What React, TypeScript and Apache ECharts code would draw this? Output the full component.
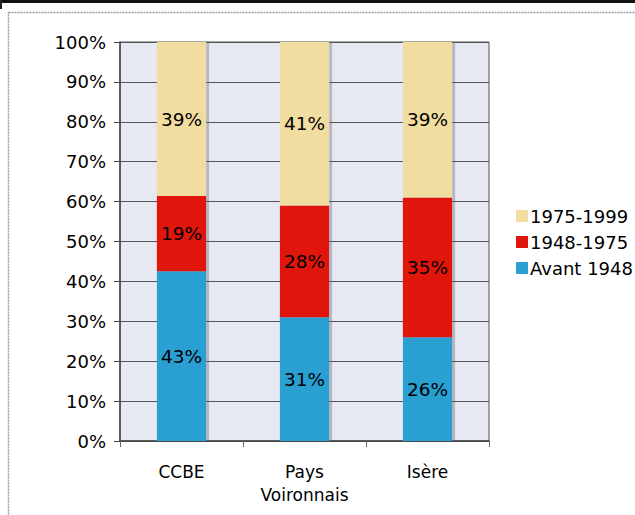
import React, { useEffect, useRef } from "react";
import * as echarts from "echarts";

const categories = ["CCBE", "Pays\nVoironnais", "Isère"];
const seriesNames = ["Avant 1948", "1948-1975", "1975-1999"];
const avant1948 = [43, 31, 26];
const p1948_1975 = [19, 28, 35];
const p1975_1999 = [39, 41, 39];
const yTickLabels = ["0%", "10%", "20%", "30%", "40%", "50%", "60%", "70%", "80%", "90%", "100%"];

const colors = ["#2b9fd2", "#e0140e", "#f1dd9f"];
const FONT = "DejaVu Sans";

export default function App() {
  const ref = useRef<HTMLDivElement>(null);
  useEffect(() => {
    if (!ref.current) return;
    const chart = echarts.init(ref.current, null, { renderer: "svg" });
    const raw = [avant1948, p1948_1975, p1975_1999];
    const totals = categories.map((_, i) => raw.reduce((s, arr) => s + arr[i], 0));
    const series = raw.map((arr, si) => ({
      name: seriesNames[si],
      type: "bar",
      stack: "total",
      barWidth: "40%",
      itemStyle: {
        color: colors[si],
        shadowColor: "rgba(90,90,110,0.35)",
        shadowOffsetX: 3,
        shadowBlur: 0,
      },
      label: {
        show: true,
        position: "inside",
        color: "#000",
        fontFamily: FONT,
        fontSize: 18.5,
        formatter: (p: any) => `${arr[p.dataIndex]}%`,
      },
      data: arr.map((v, i) => (v / totals[i]) * 100),
    }));
    chart.setOption({
      animation: false,
      backgroundColor: "#ffffff",
      textStyle: { fontFamily: FONT },
      grid: { left: 120, top: 42, right: 146, bottom: 74, containLabel: false, show: true, backgroundColor: "#e6e9f1", borderColor: "#555", borderWidth: 1 },
      legend: {
        orient: "vertical",
        left: 511,
        top: 202,
        itemWidth: 12,
        itemHeight: 12,
        itemGap: 8,
        icon: "rect",
        data: ["1975-1999", "1948-1975", "Avant 1948"],
        textStyle: { fontFamily: FONT, fontSize: 18, color: "#000", padding: [0, 0, 0, -3] },
      },
      xAxis: {
        type: "category",
        data: categories,
        axisLine: { lineStyle: { color: "#444", width: 1.5 } },
        axisTick: { show: true, length: 6, lineStyle: { color: "#666" } },
        axisLabel: { fontFamily: FONT, fontSize: 17, color: "#000", margin: 19, lineHeight: 23 },
      },
      yAxis: {
        type: "value",
        min: 0,
        max: 100,
        interval: 10,
        axisLine: { show: true, lineStyle: { color: "#444", width: 1.5 } },
        axisTick: { show: true, length: 6, lineStyle: { color: "#444" } },
        splitLine: { lineStyle: { color: "#555", width: 1 } },
        axisLabel: {
          fontFamily: FONT,
          fontSize: 18,
          color: "#000",
          margin: 14,
          formatter: (v: number) => yTickLabels[Math.round(v / 10)],
        },
      },
      graphic: [
        { type: "rect", shape: { x: 0, y: 0, width: 635, height: 3 }, style: { fill: "#111" } },
        { type: "line", shape: { x1: 1, y1: 0, x2: 1, y2: 9 }, style: { stroke: "#222", lineWidth: 2 } },
        { type: "rect", shape: { x: 8.5, y: 12.5, width: 640, height: 520 }, style: { fill: "none", stroke: "#9a9aa8", lineWidth: 1.5, lineDash: [2, 1] } },
      ],
      series,
    });
    return () => chart.dispose();
  }, []);
  return <div ref={ref} style={{ position: "fixed", left: 0, top: 0, width: 635, height: 515 }} />;
}
